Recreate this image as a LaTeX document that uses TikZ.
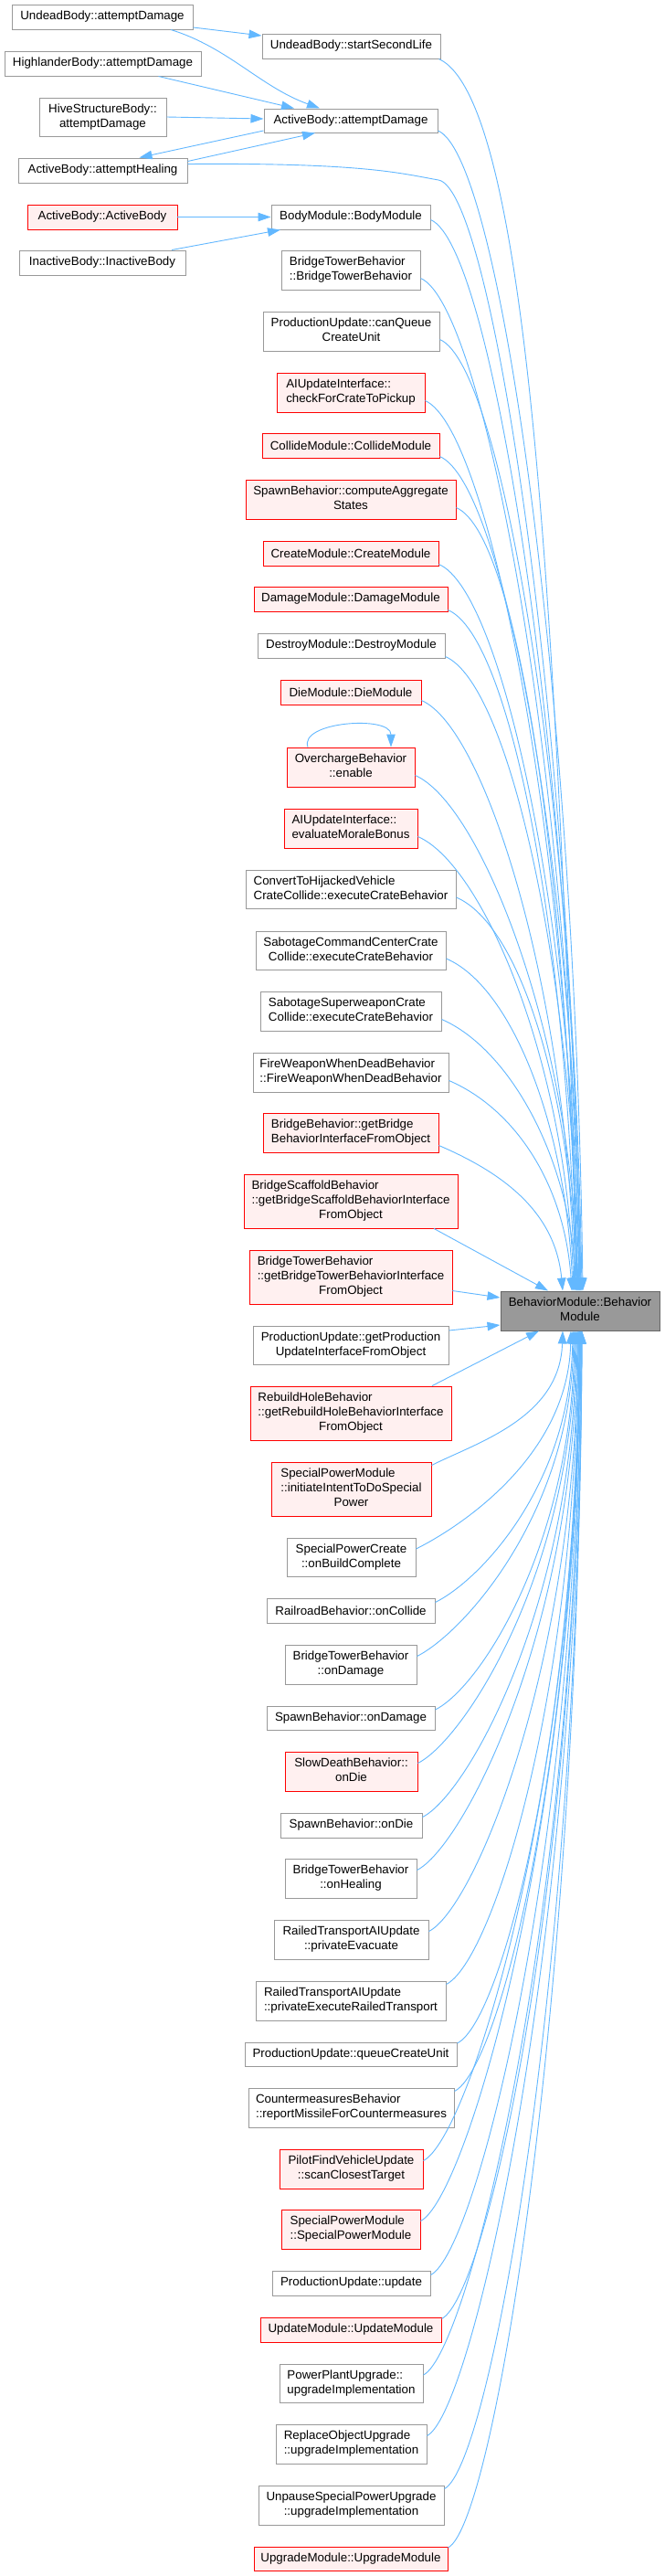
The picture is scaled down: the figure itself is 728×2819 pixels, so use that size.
\documentclass[tikz,border=0pt]{standalone}
\usepackage{fontspec}
\setmainfont{Liberation Sans}
\usetikzlibrary{arrows.meta,calc}
\definecolor{edgeblue}{HTML}{63B8FF}
\definecolor{redfill}{HTML}{FFF0F0}
\definecolor{grayline}{HTML}{999999}
\definecolor{tgtfill}{HTML}{999999}
\definecolor{tgtline}{HTML}{666666}
\newcommand\twol[2]{\begin{tabular}{@{}l@{}}#1\\\multicolumn{1}{@{}c@{}}{#2}\end{tabular}}
\newcommand\threel[3]{\begin{tabular}{@{}l@{}}#1\\#2\\\multicolumn{1}{@{}c@{}}{#3}\end{tabular}}
\newcommand\nd[7]{\node[#1, minimum width={#5-#3}, minimum height={#6-#4}] (#2) at ({(#3+#5)/2},{(#4+#6)/2}) {#7};}
\tikzset{
  box/.style={draw=grayline, fill=white, line width=1pt, inner sep=0pt, font=\fontsize{13.33}{16}\selectfont, text=black},
  rbox/.style={box, draw=red, fill=redfill, line width=0.9pt},
  tbox/.style={box, draw=tgtline, fill=tgtfill},
  edge/.style={draw=edgeblue, line width=0.9pt, -{Triangle[length=14pt,width=9.5pt]}},
}
\begin{document}
\begin{tikzpicture}[x=1pt,y=-1pt]
\fill[white] (0,0) rectangle (728,2819);
\useasboundingbox (0,0) rectangle (728,2819);
% left column
\nd{box}{ubad}{13}{5}{211}{32}{UndeadBody::attemptDamage}
\nd{box}{hbad}{5}{56}{220}{83}{HighlanderBody::attemptDamage}
\nd{box}{hsbad}{43}{107}{182}{149}{\twol{HiveStructureBody::}{attemptDamage}}
\nd{box}{abah}{20}{173}{205}{200}{ActiveBody::attemptHealing}
\nd{rbox}{abab}{30}{224}{194}{251}{ActiveBody::ActiveBody}
\nd{box}{ibib}{21}{274}{203}{301}{InactiveBody::InactiveBody}
% middle column
\nd{box}{ubssl}{287}{37}{482}{64}{UndeadBody::startSecondLife}
\nd{box}{abad}{289}{119}{479}{145}{ActiveBody::attemptDamage}
\nd{box}{bmbm}{297}{224}{471}{251}{BodyModule::BodyModule}
\nd{box}{btbb}{308}{274}{460}{317}{\twol{BridgeTowerBehavior}{::BridgeTowerBehavior}}
\nd{box}{pucq}{288}{341}{481}{384}{\twol{ProductionUpdate::canQueue}{CreateUnit}}
\nd{rbox}{aicc}{303}{408}{465}{451}{\twol{AIUpdateInterface::}{checkForCrateToPickup}}
\nd{rbox}{cmcm}{287}{474}{481}{501}{CollideModule::CollideModule}
\nd{rbox}{sbca}{269}{525}{499}{568}{\twol{SpawnBehavior::computeAggregate}{States}}
\nd{rbox}{crcr}{288}{592}{480}{619}{CreateModule::CreateModule}
\nd{rbox}{dmdm}{278}{642}{490}{669}{DamageModule::DamageModule}
\nd{box}{dsds}{282}{693}{487}{720}{DestroyModule::DestroyModule}
\nd{rbox}{didi}{307}{744}{461}{771}{DieModule::DieModule}
\nd{rbox}{ocen}{314}{818}{454}{861}{\twol{OverchargeBehavior}{::enable}}
\nd{rbox}{aiem}{311}{885}{457}{928}{\twol{AIUpdateInterface::}{evaluateMoraleBonus}}
\nd{box}{cthv}{269}{952}{499}{994}{\twol{ConvertToHijackedVehicle}{CrateCollide::executeCrateBehavior}}
\nd{box}{sccc}{280}{1019}{488}{1061}{\twol{SabotageCommandCenterCrate}{Collide::executeCrateBehavior}}
\nd{box}{sswc}{285}{1085}{483}{1128}{\twol{SabotageSuperweaponCrate}{Collide::executeCrateBehavior}}
\nd{box}{fwwd}{277}{1152}{491}{1195}{\twol{FireWeaponWhenDeadBehavior}{::FireWeaponWhenDeadBehavior}}
\nd{rbox}{bbgb}{288}{1218}{480}{1261}{\twol{BridgeBehavior::getBridge}{BehaviorInterfaceFromObject}}
\nd{rbox}{bsbg}{267}{1285}{501}{1344}{\threel{BridgeScaffoldBehavior}{::getBridgeScaffoldBehaviorInterface}{FromObject}}
\nd{rbox}{btbg}{273}{1368}{495}{1427}{\threel{BridgeTowerBehavior}{::getBridgeTowerBehaviorInterface}{FromObject}}
\nd{box}{pugp}{277}{1451}{491}{1493}{\twol{ProductionUpdate::getProduction}{UpdateInterfaceFromObject}}
\nd{rbox}{rhbg}{274}{1517}{494}{1576}{\threel{RebuildHoleBehavior}{::getRebuildHoleBehaviorInterface}{FromObject}}
\nd{rbox}{spmi}{297}{1600}{472}{1659}{\threel{SpecialPowerModule}{::initiateIntentToDoSpecial}{Power}}
\nd{box}{spcb}{314}{1683}{455}{1725}{\twol{SpecialPowerCreate}{::onBuildComplete}}
\nd{box}{rboc}{292}{1749}{476}{1776}{RailroadBehavior::onCollide}
\nd{box}{btod}{312}{1800}{456}{1843}{\twol{BridgeTowerBehavior}{::onDamage}}
\nd{box}{sbod}{292}{1867}{476}{1893}{SpawnBehavior::onDamage}
\nd{rbox}{sdod}{312}{1917}{457}{1960}{\twol{SlowDeathBehavior::}{onDie}}
\nd{box}{sbdi}{307}{1984}{462}{2011}{SpawnBehavior::onDie}
\nd{box}{btoh}{312}{2034}{456}{2077}{\twol{BridgeTowerBehavior}{::onHealing}}
\nd{box}{rtpe}{300}{2101}{469}{2144}{\twol{RailedTransportAIUpdate}{::privateEvacuate}}
\nd{box}{rtpx}{280}{2168}{488}{2211}{\twol{RailedTransportAIUpdate}{::privateExecuteRailedTransport}}
\nd{box}{puqc}{268}{2235}{500}{2261}{ProductionUpdate::queueCreateUnit}
\nd{box}{cmrm}{272}{2285}{497}{2328}{\twol{CountermeasuresBehavior}{::reportMissileForCountermeasures}}
\nd{rbox}{pfsc}{306}{2352}{463}{2395}{\twol{PilotFindVehicleUpdate}{::scanClosestTarget}}
\nd{rbox}{spsp}{308}{2418}{460}{2461}{\twol{SpecialPowerModule}{::SpecialPowerModule}}
\nd{box}{puup}{298}{2485}{471}{2512}{ProductionUpdate::update}
\nd{rbox}{umum}{285}{2536}{483}{2563}{UpdateModule::UpdateModule}
\nd{box}{ppui}{306}{2587}{463}{2629}{\twol{PowerPlantUpgrade::}{upgradeImplementation}}
\nd{box}{roui}{302}{2653}{467}{2696}{\twol{ReplaceObjectUpgrade}{::upgradeImplementation}}
\nd{box}{usui}{283}{2720}{486}{2763}{\twol{UnpauseSpecialPowerUpgrade}{::upgradeImplementation}}
\nd{rbox}{upum}{278}{2787}{490}{2813}{UpgradeModule::UpgradeModule}
% target
\nd{tbox}{bm}{548}{1413}{722}{1456}{\twol{BehaviorModule::Behavior}{Module}}
% local edges
\draw[edge] ([yshift=-11.5pt]ubad.east) -- ([yshift=11.5pt]ubssl.west);
\draw[edge] ([xshift=75pt]ubad.south) .. controls (250,52) and (285,95) .. ([xshift=-34pt]abad.north);
\draw[edge] ([xshift=61pt]hbad.south) -- ([xshift=-62pt]abad.north);
\draw[edge] (hsbad.east) -- ([yshift=2pt]abad.west);
\draw[edge] ([yshift=-11pt]abad.west) -- ([xshift=40pt]abah.north);
\draw[edge] ([yshift=10pt]abah.east) -- ([xshift=-39pt]abad.south);
\draw[edge] (abab) -- (bmbm);
\draw[edge] ([xshift=76pt]ibib.north) -- ([xshift=-77pt]bmbm.south);
\draw[edge] ([xshift=-47pt]ocen.north) .. controls +(-10pt,28pt) and +(0pt,35pt) .. ([xshift=44pt]ocen.north);
% edges into target from above
\draw[edge] ([xshift=-2pt]ubssl.south east) .. controls +(100pt,-46pt) and +(-23pt,713pt) .. ([xshift=-2pt]bm.north);
\foreach \nm/\dx/\ys in {abad/3/-11, btbb/-1/-9, pucq/2/-9, aicc/-3/-9, cmcm/1/-12, sbca/-4/-9, crcr/0/-12, dmdm/-5/-12, dsds/-1/-12, didi/-6/-9, ocen/-2/-9, aiem/-7/-9, cthv/-3/-9, sccc/-8/-9, sswc/-4/-9, fwwd/-9/-9, bbgb/-19/-14}{
  \draw[edge] let \p1=(\nm.east), \p2=(bm.north), \n1={0.5*(\y1-\y2)} in
    ([yshift=\ys pt]\nm.east) .. controls +(70pt,-30pt) and +(-8pt,\n1) .. ([xshift=\dx pt]bm.north);
}
\draw[edge] ([yshift=7pt]abah.east) .. controls (400,178) and (440,190) .. (480,197) .. controls (540,207) and (627,805) .. ([xshift=0pt]bm.north);
\draw[edge] ([yshift=-3pt]bmbm.east) .. controls +(70pt,-30pt) and +(-10pt,570pt) .. ([xshift=1pt]bm.north);
\draw[edge] ([xshift=91pt]bsbg.south) -- ([xshift=-35pt]bm.north);
\draw[edge] ([yshift=-15pt]btbg.east) -- ([yshift=14.5pt]bm.west);
\draw[edge] ([yshift=16pt]pugp.east) -- ([yshift=-15.5pt]bm.west);
\draw[edge] ([xshift=89pt]rhbg.north) -- ([xshift=-45pt]bm.south);
% edges into target from below
\foreach \nm/\dx/\ys in {spmi/-19/26, spcb/-10/9, rboc/-8/9, btod/-7/9, sbod/-6/9, sdod/-5/9, sbdi/-4/9, btoh/-3/9, rtpe/-2/9, rtpx/-2/18, puqc/-1/12, cmrm/-1/18, pfsc/0/9, spsp/0/9, puup/0/9, umum/1/12, ppui/1/9, roui/2/9, usui/2/18, upum/2/12}{
  \draw[edge] let \p1=(\nm.east), \p2=(bm.south), \n1={0.55*(\y2-\y1)} in
    ([yshift=\ys pt]\nm.east) .. controls +(50pt,25pt) and +(-3pt,-\n1) .. ([xshift=\dx pt]bm.south);
}
\end{tikzpicture}
\end{document}
